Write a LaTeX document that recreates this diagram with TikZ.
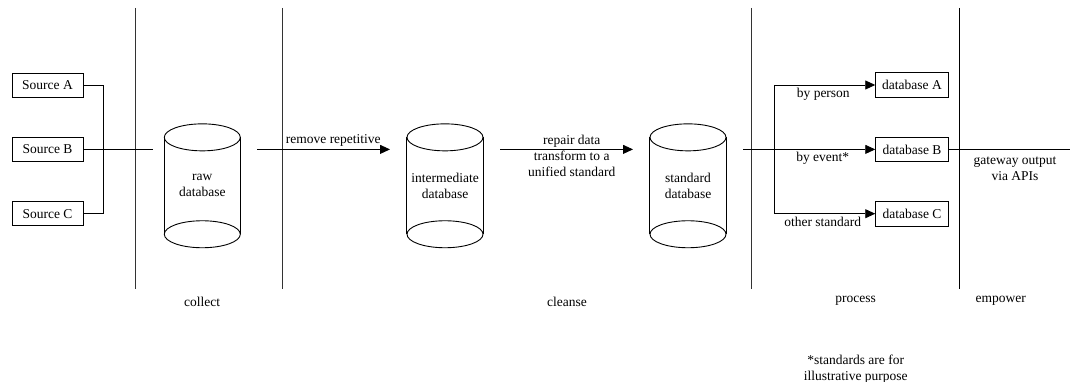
\documentclass[tikz,border=0pt]{standalone}
\usepackage{fontspec}
\setmainfont{Liberation Serif}
\usetikzlibrary{arrows.meta}

\tikzset{
  every node/.style={font=\fontsize{13.5}{16}\selectfont},
  ln/.style={line width=0.9pt, draw=black},
  arr/.style={ln, -{Triangle[length=10pt,width=9pt]}},
  lane/.style={line width=1pt, draw=black!80},
  srcbox/.style={draw, line width=0.9pt, minimum width=71pt, minimum height=24pt, inner sep=0pt},
  dbbox/.style={draw, line width=0.9pt, minimum width=72.6pt, minimum height=24.6pt, inner sep=0pt},
  dbbody/.style={minimum width=76pt, minimum height=96.5pt, inner sep=0pt, align=center},
  lbl/.style={align=center, inner sep=0pt},
}

% cylinder outline around a named body node
\newcommand\drawcyl[1]{%
  \draw[ln] (#1.north) ellipse [x radius=38pt, y radius=13.5pt];
  \draw[ln] (#1.south) ellipse [x radius=38pt, y radius=13.5pt];
  \draw[ln] (#1.north west) -- (#1.south west);
  \draw[ln] (#1.north east) -- (#1.south east);
}

\begin{document}
\begin{tikzpicture}[x=1pt,y=-1pt]
\useasboundingbox (0,0) rectangle (1070,382);

% stage separators
\draw[lane] (135.5,8) coordinate (l1t) -- (135.5,289) coordinate (l1b);
\draw[lane] (282.7,8) coordinate (l2t) -- (282.7,289) coordinate (l2b);
\draw[lane] (751.7,8) coordinate (l3t) -- (751.7,289) coordinate (l3b);
\draw[line width=0.9pt] (959.3,8) coordinate (l4t) -- (959.3,289) coordinate (l4b);

% sources
\node[srcbox] (srcA) at (47.5,85) {Source A};
\node[srcbox] (srcB) at (47.5,149.4) {Source B};
\node[srcbox] (srcC) at (47.5,213.7) {Source C};

% databases
\node[dbbody] (raw) at (202.3,185.8) {raw\\database};
\node[dbbody] (mid) at (445,185.8) {intermediate\\database};
\node[dbbody] (std) at (688,185.8) {standard\\database};
\drawcyl{raw}
\drawcyl{mid}
\drawcyl{std}

\node[dbbox] (dbA) at (912,85) {database A};
\node[dbbox] (dbB) at (912,149.4) {database B};
\node[dbbox] (dbC) at (912,213.7) {database C};

% connector end points
\coordinate (bx) at (103.3,0);
\coordinate (rawin) at (153,149.4);
\coordinate (a1s) at (257.3,149.4);
\coordinate (a1e) at (390,149.4);
\coordinate (a2s) at (500,149.4);
\coordinate (a2e) at (633,149.4);
\coordinate (a3s) at (743.3,149.4);
\coordinate (br) at (774,0);
\coordinate (out) at (1069.5,149.4);

% collect
\draw[ln] (srcA.east) -| (bx |- srcC.east) -- (srcC.east);
\draw[ln] (srcB.east) -- (rawin);

% cleanse
\draw[arr] (a1s) -- (a1e);
\draw[arr] (a2s) -- (a2e);
\node[lbl] (lrem) at (333.3,140) {remove repetitive};
\node[lbl] (lrep) at (571.7,156) {repair data\\transform to a\\unified standard};

% process
\draw[arr] (a3s) -- (dbB.west);
\draw[ln] (br |- dbA.west) -- (br |- dbC.west);
\draw[arr] (br |- dbA.west) -- (dbA.west);
\draw[arr] (br |- dbC.west) -- (dbC.west);
\node[lbl] (lper) at (823.3,94) {by person};
\node[lbl] (levt) at (822.7,158.3) {by event*};
\node[lbl] (loth) at (822.7,222.3) {other standard};

% empower
\draw[ln] (dbB.east) -- (out);
\node[lbl] (lgw) at (1015,168.7) {gateway output\\via APIs};

% stage names
\node[lbl] (scol) at (202,302) {collect};
\node[lbl] (scle) at (567,301.7) {cleanse};
\node[lbl] (spro) at (855.7,300.5) {process};
\node[lbl] (semp) at (1000.7,300.5) {empower};

% footnote
\node[lbl] (note) at (855.7,368.7) {*standards are for\\illustrative purpose};
\end{tikzpicture}
\end{document}
